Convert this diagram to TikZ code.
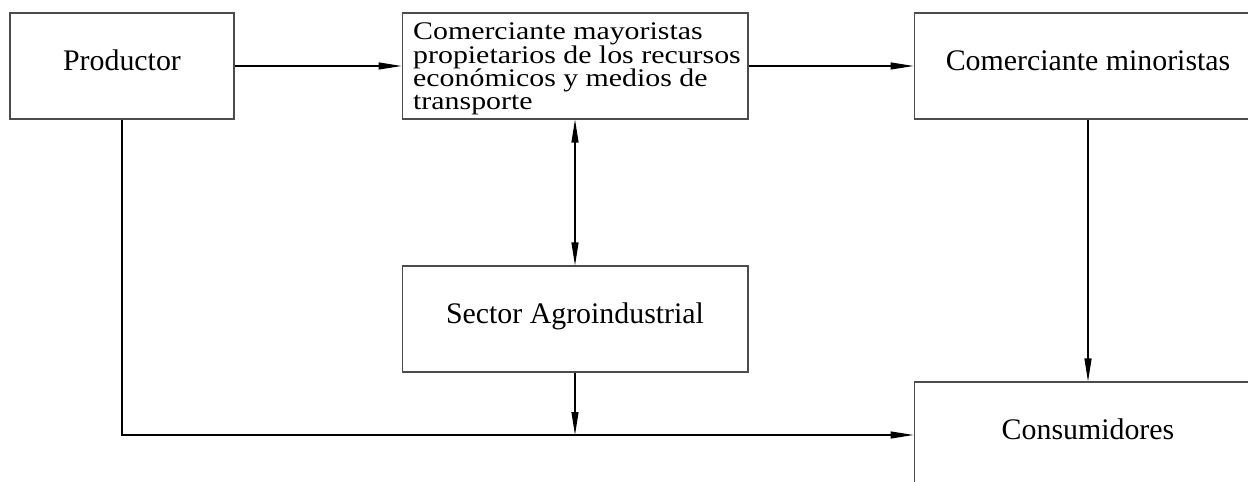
\documentclass[tikz,border=0pt]{standalone}
\usepackage{fontspec}
\setmainfont{Liberation Serif}
\usepackage{tikz}
\usetikzlibrary{calc}
\usetikzlibrary{arrows.meta}
\newcommand{\letracaja}{\fontsize{17}{15.6}\selectfont\lineskiplimit=-20pt\relax}

\begin{document}
\begin{tikzpicture}[x=0.02cm,y=-0.02cm,
  caja/.style={draw=black!70,line width=0.6pt,minimum height=2.12cm,inner sep=0pt,font=\letracaja},
  unalinea/.style={text height=11.5pt,text depth=6pt},
  flecha/.style={line width=0.6pt,-{Triangle[length=0.46cm,width=0.14cm]}},
  dobleflecha/.style={line width=0.6pt,{Triangle[length=0.46cm,width=0.14cm]}-{Triangle[length=0.46cm,width=0.14cm]}}]

\clip (0,0) rectangle (1248,482);

%cajas
\node[caja,unalinea,minimum width=4.48cm] (prod) at (122,66) {Productor};
\node[caja,minimum width=6.92cm] (may) at (575,66) {};
\node[font=\letracaja,inner sep=0pt,align=left,yscale=0.85,transform shape] (maytexto) at ($(may.center)+(2,3)$) {Comerciante mayoristas\\propietarios de los recursos\\económicos y medios de\\transporte};
\node[caja,unalinea,minimum width=6.96cm] (min) at (1088,66) {Comerciante minoristas};
\node[caja,unalinea,minimum width=6.92cm] (sec) at (575,319) {Sector Agroindustrial};
\node[caja,unalinea,minimum width=6.96cm] (cons) at (1088,435) {Consumidores};

%flechas
\draw[flecha] (prod.east)--(may.west);
\draw[flecha] (may.east)--(min.west);
\draw[dobleflecha] (may.south)--(sec.north);
\draw[flecha] (min.south)--(cons.north);
\draw[flecha] (prod.south) |- (cons.west);
\draw[flecha] (sec.south)--(sec.south |- cons.west);

\end{tikzpicture}
\end{document}
